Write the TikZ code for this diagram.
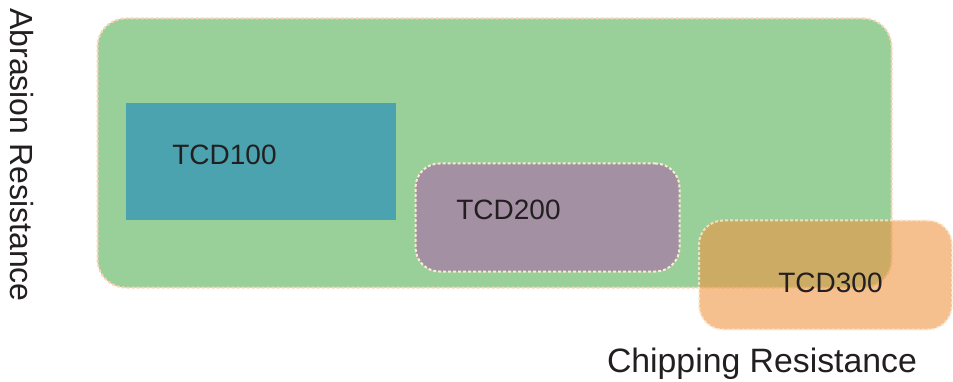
\documentclass[tikz,border=0pt]{standalone}
\usepackage{fontspec}
\setmainfont{Liberation Sans}
\definecolor{grn}{RGB}{153,207,153}
\definecolor{teal2}{RGB}{75,163,176}
\definecolor{purp}{RGB}{163,144,163}
\definecolor{orng}{RGB}{238,150,67}
\definecolor{edge}{RGB}{250,210,180}
\definecolor{edgelt}{RGB}{250,235,210}
\definecolor{txt}{RGB}{35,31,32}
\begin{document}
\begin{tikzpicture}[x=1pt,y=-1pt,
  box/.style={rectangle,inner sep=0pt,line width=2pt,dash pattern=on 3pt off 2pt},
  greenbox/.style={box,fill=grn,draw=edge,rounded corners=28pt},
  tealbox/.style={rectangle,inner sep=0pt,fill=teal2},
  purpbox/.style={box,fill=purp,draw=edgelt,rounded corners=24pt},
  orangebox/.style={box,fill=orng,fill opacity=0.6,draw=edgelt,draw opacity=0.8,rounded corners=24pt},
  lbl/.style={inner sep=0pt,text=txt,font=\fontsize{28}{32}\selectfont},
  axis/.style={inner sep=0pt,text=txt,font=\fontsize{32}{36}\selectfont}]
\useasboundingbox (0,0) rectangle (953,382);
\node[greenbox,minimum width=794pt,minimum height=269pt] (green) at (494.5,153) {};
\node[tealbox,minimum width=270pt,minimum height=117pt] (teal) at (261,161.5) {};
\node[purpbox,minimum width=264pt,minimum height=108pt] (purple) at (547.5,217.5) {};
\node[orangebox,minimum width=253pt,minimum height=109pt] (orange) at (825.5,275) {};
\node[lbl] (t1) at (224.5,155) {TCD100};
\node[lbl] (t2) at (508.5,210) {TCD200};
\node[lbl] (t3) at (830.5,283) {TCD300};
\node[axis,font=\fontsize{33.8}{38}\selectfont] (xl) at (762,364) {Chipping Resistance};
\node[axis,rotate=-90] (yl) at (22,155) {Abrasion Resistance};
\end{tikzpicture}
\end{document}
